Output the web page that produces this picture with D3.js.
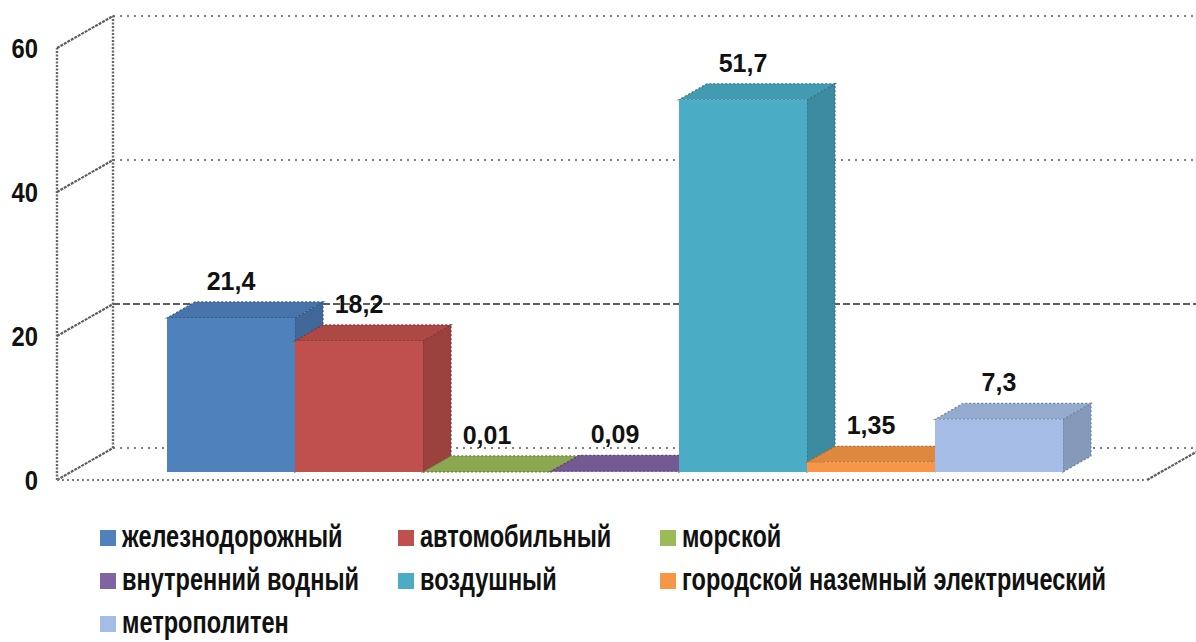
<!DOCTYPE html>
<html>
<head>
<meta charset="utf-8">
<script src="https://cdn.jsdelivr.net/npm/d3@7"></script>
<style>
  html, body { margin: 0; padding: 0; background: #fff; }
  svg { display: block; }
  text { font-family: "Liberation Sans", Arial, sans-serif; font-weight: bold; fill: #111; }
</style>
</head>
<body>
<svg id="chart" width="1196" height="642"></svg>
<script>
// Transport modes (one series each) and their values
const series = [
  "железнодорожный",
  "автомобильный",
  "морской",
  "внутренний водный",
  "воздушный",
  "городской наземный электрический",
  "метрополитен"
];
const values = [21.4, 18.2, 0.01, 0.09, 51.7, 1.35, 7.3];
const valueLabels = ["21,4", "18,2", "0,01", "0,09", "51,7", "1,35", "7,3"];
const yTicks = [0, 20, 40, 60];
const colors = ["#4F81BD", "#C0504D", "#9BBB59", "#8064A2", "#4BACC6", "#F79646", "#A5BDE6"];

const svg = d3.select("#chart");

// ---- 3D layout ----
const floorLeft = 57, floorRight = 1147;   // front edge of the floor
const depth = { dx: 56, dy: -32 };          // full depth of the box
const barFront = 0.25, barBack = 0.75;      // bars occupy the middle half of the depth

const y = d3.scaleLinear().domain([0, 60]).range([480, 48]);
const x = d3.scaleBand().domain(series).range([153, 1049]).padding(0);

// project a point (front-plane x, value, depth fraction) onto the screen
const P = (px, v, d) => [px + depth.dx * d, y(v) + depth.dy * d];

const walls = svg.append("g");

function drawLine(g, a, b, stroke, width, dash) {
  g.append("line")
    .attr("x1", a[0]).attr("y1", a[1]).attr("x2", b[0]).attr("y2", b[1])
    .attr("stroke", stroke).attr("stroke-width", width)
    .attr("stroke-dasharray", dash).attr("stroke-linecap", "butt");
}

// back-wall gridlines (the 20 line is dashed, the rest dotted)
yTicks.forEach(t => {
  const dashed = t === 20;
  drawLine(walls, P(floorLeft, t, 1), P(floorRight, t, 1),
    dashed ? "#5e5e5e" : "#7c7c7c", dashed ? 2 : 2.2, dashed ? "7,3" : "2,5");
});

// side wall: verticals and tick diagonals
drawLine(walls, P(floorLeft, 0, 0), P(floorLeft, 60, 0), "#666", 2.4, "2,1.5");
drawLine(walls, P(floorLeft, 0, 1), P(floorLeft, 60, 1), "#666", 2.4, "2,1.5");
yTicks.forEach(t => {
  drawLine(walls, P(floorLeft, t, 0), P(floorLeft, t, 1), "#5e5e5e", 2.2, "3,1");
});

// floor: front and right edges
drawLine(walls, P(floorLeft, 0, 0), P(floorRight, 0, 0), "#7c7c7c", 2.2, "2,3");
drawLine(walls, P(floorRight, 0, 0), P(floorRight, 0, 1), "#5e5e5e", 2.2, "3,1");

// ---- bars (left to right so later bars cover earlier side faces) ----
const bars = svg.append("g");
const bw = x.bandwidth();
const poly = pts => pts.map(p => p.join(",")).join(" ");

series.forEach((s, i) => {
  const L = x(s), R = L + bw, v = values[i];
  const c = d3.color(colors[i]);
  const top = c.darker(0.3).formatHex();
  const side = c.darker(0.6).formatHex();
  const edge = c.darker(1.1).formatHex();
  const g = bars.append("g");

  g.append("polygon")
    .attr("points", poly([P(R, 0, barFront), P(R, 0, barBack), P(R, v, barBack), P(R, v, barFront)]))
    .attr("fill", side).attr("stroke", edge).attr("stroke-width", 1.2).attr("stroke-dasharray", "2,2");
  g.append("polygon")
    .attr("points", poly([P(L, v, barFront), P(R, v, barFront), P(R, v, barBack), P(L, v, barBack)]))
    .attr("fill", top).attr("stroke", edge).attr("stroke-width", 1.2).attr("stroke-dasharray", "2,2");
  g.append("polygon")
    .attr("points", poly([P(L, 0, barFront), P(R, 0, barFront), P(R, v, barFront), P(L, v, barFront)]))
    .attr("fill", c.formatHex());
});

// ---- value labels ----
const labels = svg.append("g");
series.forEach((s, i) => {
  const cx = P(x(s) + bw / 2, values[i], barFront)[0];
  const by = P(x(s) + bw / 2, values[i], barBack)[1] - 12;
  labels.append("text")
    .attr("x", cx).attr("y", by)
    .attr("text-anchor", "middle")
    .attr("font-size", 25)
    .text(valueLabels[i]);
});

// ---- y tick labels ----
const ticks = svg.append("g");
yTicks.forEach(t => {
  ticks.append("text")
    .attr("transform", `translate(38,${y(t) + 10}) scale(0.88,1)`)
    .attr("text-anchor", "end")
    .attr("font-size", 27)
    .text(t);
});

// ---- legend ----
const legendCols = [100, 398, 660];
const legendRows = [547, 590, 633];
const legend = svg.append("g");
series.forEach((s, i) => {
  const cx = legendCols[i % 3], by = legendRows[Math.floor(i / 3)];
  legend.append("rect")
    .attr("x", cx).attr("y", by - 17)
    .attr("width", 16).attr("height", 16)
    .attr("fill", colors[i]);
  legend.append("text")
    .attr("transform", `translate(${cx + 22},${by}) scale(0.76,1)`)
    .attr("font-size", 31)
    .text(s);
});
</script>
</body>
</html>
